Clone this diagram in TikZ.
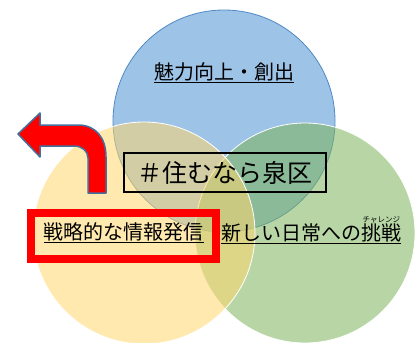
\documentclass[tikz,border=0pt]{standalone}
\usepackage{fontspec}
\setmainfont{Noto Sans CJK JP}
\usetikzlibrary{positioning}
\definecolor{circblue}{HTML}{9DC3E6}
\definecolor{circblueline}{HTML}{4F89C6}
\definecolor{circyellow}{HTML}{FFD76E}
\definecolor{circgreen}{HTML}{7EB45B}
\definecolor{arrowline}{HTML}{41719C}
\tikzset{
  circ/.style={line width=0.8pt, fill opacity=0.55},
  lbl/.style={inner sep=0pt, font=\fontsize{20}{24}\selectfont},
  title/.style={draw, line width=1.5pt, minimum width=202pt, minimum height=39pt,
      inner sep=0pt, font=\fontsize{25}{30}\selectfont},
  ruby/.style={inner sep=0pt, font=\fontsize{7.5}{8}\selectfont},
}

\begin{document}
\begin{tikzpicture}[x=1pt, y=-1pt]
  \useasboundingbox (0,0) rectangle (419,342);
  % circles
  \fill[circblue] (224,121) circle (111);
  \draw[circblueline, line width=0.8pt] (224,121) circle (111);
  \draw[circ, draw=white, fill=circgreen] (305,233) circle (110);
  \draw[circ, draw=white, fill=circyellow] (144,233) circle (111);
  % title
  \node[title] (title) at (225,172.5) {＃住むなら泉区};
  % labels
  \node[lbl] (charm) at (224,73) {\underline{魅力向上・創出}};
  \node[lbl] (info) at (123.5,233) {\underline{戦略的な情報発信}};
  \node[lbl] (daily) at (311,234) {\underline{新しい日常への挑戦}};
  \node[ruby, above=0.5pt of daily.north east, anchor=south east, xshift=-1pt] (challenge) {チャレンジ};
  % highlight
  \draw[red, line width=8pt] (31,213) rectangle (216,259);
  % bent arrow
  \draw[fill=red, draw=arrowline, line width=1.5pt, line join=round]
    (88,193) -- (106,193) -- (106,157)
    .. controls (106,138) and (96,125) .. (78,125)
    -- (40,125) -- (40,113) -- (18,134) -- (40,157) -- (40,146)
    -- (74,146) .. controls (82,146) and (88,151) .. (88,158) -- cycle;
\end{tikzpicture}
\end{document}
